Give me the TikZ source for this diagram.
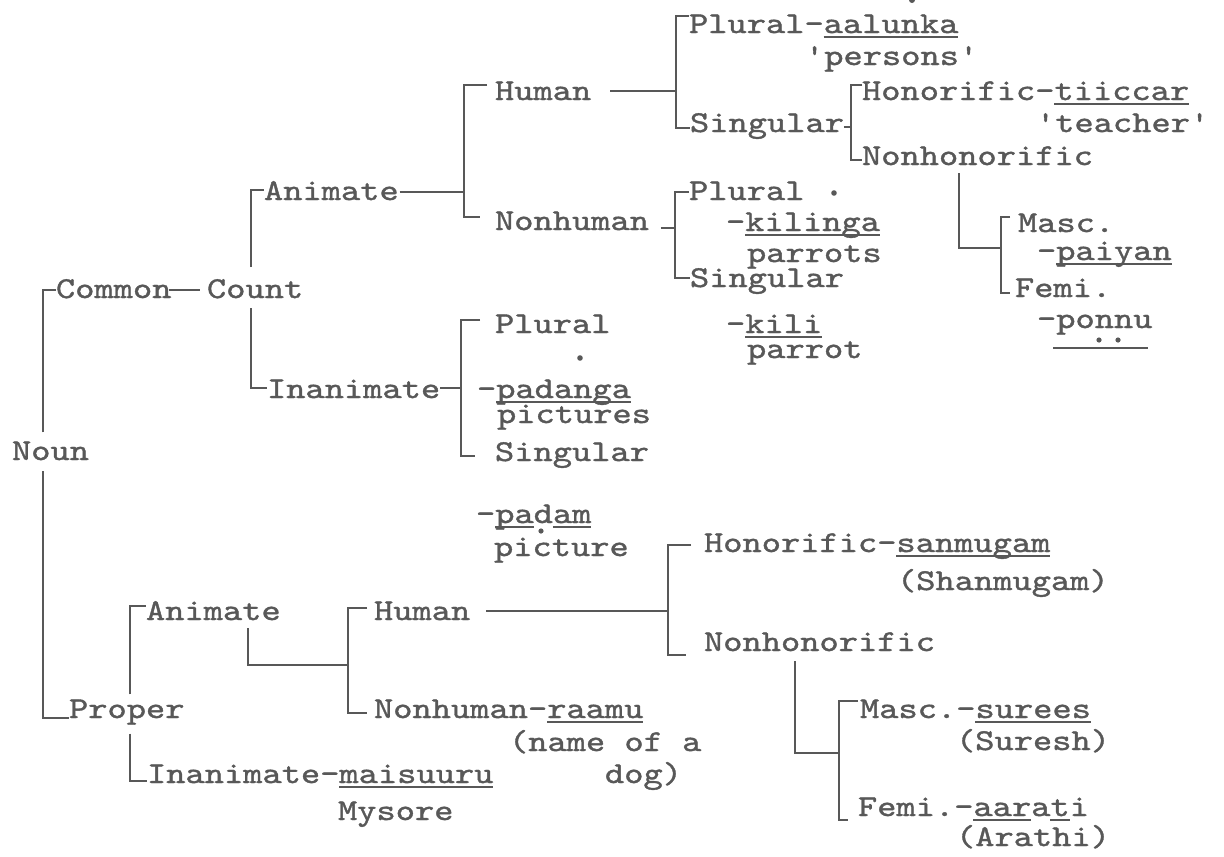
\documentclass[tikz,border=0pt]{standalone}
\usepackage{fontspec}
\setmonofont[FakeStretch=1.21,FakeBold=1.2]{lmmono10-regular.otf}
\definecolor{ink}{RGB}{88,88,88}
\newcommand\ulx[1]{\setbox0\hbox{#1}\rlap{\rule[-4.8pt]{\wd0}{1.6pt}}\box0}
\begin{document}
\begin{tikzpicture}[x=1pt,y=-1pt,
  lbl/.style={inner sep=0pt, outer sep=0pt, anchor=base west, text=ink,
              font=\ttfamily\fontsize{30.3pt}{32pt}\selectfont},
  ln/.style={draw=ink, line width=2.4pt}]
\fill[white] (0,0) rectangle (1224,857);
\useasboundingbox (0,0) rectangle (1224,857);

% ---------- nodes ----------
\node[lbl] (noun)    at (12,460)  {Noun};
\node[lbl] (common)  at (56,298)  {Common};
\node[lbl] (count)   at (207,298) {Count};
\node[lbl] (animC)   at (264,200) {Animate};
\node[lbl] (inanC)   at (267,398) {Inanimate};
\node[lbl] (humC)    at (495,100) {Human};
\node[lbl] (nonhC)   at (495,230) {Nonhuman};
\node[lbl] (plH)     at (689,33)  {Plural-\ulx{aalunka}};
\node[lbl] (persons) at (805,65)  {'persons'};
\node[lbl] (sgH)     at (690,132) {Singular};
\node[lbl] (honC)    at (862,100) {Honorific-\ulx{tiiccar}};
\node[lbl] (teacher) at (1036,132){'teacher'};
\node[lbl] (nonhonC) at (862,165) {Nonhonorific};
\node[lbl] (mascC)   at (1018,232){Masc.};
\node[lbl] (paiyan)  at (1037,260){-\ulx{paiyan}};
\node[lbl] (femiC)   at (1015,297){Femi.};
\node[lbl] (ponnu)   at (1037,328){-ponnu};
\node[lbl] (plN)     at (689,200) {Plural};
\node[lbl] (kilinga) at (726,231) {-\ulx{kilinga}};
\node[lbl] (parrots) at (747,262) {parrots};
\node[lbl] (sgN)     at (690,287) {Singular};
\node[lbl] (kili)    at (726,333) {-\ulx{kili}};
\node[lbl] (parrot)  at (747,358) {parrot};
\node[lbl] (plI)     at (495,333) {Plural};
\node[lbl] (padanga) at (477,398) {-\ulx{padanga}};
\node[lbl] (pictures)at (497,423) {pictures};
\node[lbl] (sgI)     at (495,461) {Singular};
\node[lbl] (padam)   at (476,523) {-\ulx{pa}d\ulx{am}};
\node[lbl] (picture) at (494,556) {picture};
\node[lbl] (proper)  at (69,718)  {Proper};
\node[lbl] (animP)   at (146,620) {Animate};
\node[lbl] (inanP)   at (147,783) {Inanimate-\ulx{maisuuru}};
\node[lbl] (mysore)  at (338,820) {Mysore};
\node[lbl] (humP)    at (374,620) {Human};
\node[lbl] (nonhP)   at (374,718) {Nonhuman-\ulx{raamu}};
\node[lbl] (namea)   at (509,751) {(name of a};
\node[lbl] (dog)     at (605,783) {dog)};
\node[lbl] (honP)    at (704,552) {Honorific-\ulx{sanmugam}};
\node[lbl] (shan)    at (897,590) {(Shanmugam)};
\node[lbl] (nonhonP) at (704,651) {Nonhonorific};
\node[lbl] (mascP)   at (860,718) {Masc.-\ulx{surees}};
\node[lbl] (suresh)  at (956,750) {(Suresh)};
\node[lbl] (femiP)   at (858,816) {Femi.-\ulx{aar}a\ulx{t}i};
\node[lbl] (arathi)  at (956,846) {(Arathi)};

% ---------- bracket corners ----------
\coordinate (nb1) at (43,290);   \coordinate (nb2) at (43,718);
\coordinate (cb1) at (251,190);  \coordinate (cb2) at (251,388);
\coordinate (acb) at (464,192);
\coordinate (ab1) at (464,85);   \coordinate (ab2) at (464,217);
\coordinate (hb)  at (676,91);
\coordinate (hb1) at (676,16);   \coordinate (hb2) at (676,128);
\coordinate (sb)  at (851,127);
\coordinate (sb1) at (851,85);   \coordinate (sb2) at (851,160);
\coordinate (nd)  at (959,248);  \coordinate (fb)  at (1001,248);
\coordinate (fb1) at (1001,217); \coordinate (fb2) at (1001,293);
\coordinate (nhb) at (675,228);
\coordinate (nhb1) at (675,192); \coordinate (nhb2) at (675,278);
\coordinate (ib)  at (461,388);
\coordinate (ib1) at (461,320);  \coordinate (ib2) at (461,456);
\coordinate (pb1) at (130,606);  \coordinate (pb2) at (130,781);
\coordinate (ad)  at (248,665);  \coordinate (apb) at (348,665);
\coordinate (apb1) at (348,608); \coordinate (apb2) at (348,713);
\coordinate (hpb) at (668,611);
\coordinate (hpb1) at (668,545); \coordinate (hpb2) at (668,655);
\coordinate (nhd) at (795,753);  \coordinate (nhpb) at (839,753);
\coordinate (nhpb1) at (839,701);\coordinate (nhpb2) at (839,820);

% ---------- connectors ----------
\draw[ln] ([yshift=9pt]noun.north -| nb1) -- (nb1) -- (nb1 -| common.west);
\draw[ln] ([yshift=-11pt]noun.south -| nb1) -- (nb2) -- (nb2 -| proper.west);
\draw[ln] ([xshift=-2pt]common.east |- nb1) -- ([xshift=-7pt]count.west |- nb1);
\draw[ln] ([yshift=12pt]count.north -| cb1) -- (cb1) -- (cb1 -| animC.west);
\draw[ln] ([yshift=-10pt]count.south -| cb1) -- (cb2) -- (cb2 -| inanC.west);
\draw[ln] ([xshift=1pt]animC.east |- acb) -- (acb);
\draw[ln] ([xshift=-8pt]humC.west |- ab1) -- (ab1) -- (ab2) -- ([xshift=-15pt]nonhC.west |- ab2);
\draw[ln] ([xshift=19pt]humC.east |- hb) -- (hb);
\draw[ln] (hb1 -| plH.west) -- (hb1) -- (hb2) -- (hb2 -| sgH.west);
\draw[ln] (sgH.east |- sb) -- (sb);
\draw[ln] (sb1 -| honC.west) -- (sb1) -- (sb2) -- (sb2 -| nonhonC.west);
\draw[ln] ([yshift=-8pt]nonhonC.south -| nd) -- (nd) -- (fb);
\draw[ln] ([xshift=-8pt]mascC.west |- fb1) -- (fb1) -- (fb2) -- ([xshift=-5pt]femiC.west |- fb2);
\draw[ln] ([xshift=12pt]nonhC.east |- nhb) -- (nhb);
\draw[ln] (nhb1 -| plN.west) -- (nhb1) -- (nhb2) -- (nhb2 -| sgN.west);
\draw[ln] (inanC.east |- ib) -- (ib);
\draw[ln] ([xshift=-15pt]plI.west |- ib1) -- (ib1) -- (ib2) -- ([xshift=-20pt]sgI.west |- ib2);
\draw[ln] ([yshift=5pt]proper.north -| pb1) -- (pb1) -- (pb1 -| animP.west);
\draw[ln] ([yshift=-9pt]proper.south -| pb1) -- (pb2) -- (pb2 -| inanP.west);
\draw[ln] ([yshift=-8pt]animP.south -| ad) -- (ad) -- (apb);
\draw[ln] ([xshift=-7pt]humP.west |- apb1) -- (apb1) -- (apb2) -- ([xshift=-7pt]nonhP.west |- apb2);
\draw[ln] ([xshift=16pt]humP.east |- hpb) -- (hpb);
\draw[ln] ([xshift=-13pt]honP.west |- hpb1) -- (hpb1) -- (hpb2) -- ([xshift=-18pt]nonhonP.west |- hpb2);
\draw[ln] ([yshift=-10pt]nonhonP.south -| nhd) -- (nhd) -- (nhpb);
\draw[ln] ([xshift=-2pt]mascP.west |- nhpb1) -- (nhpb1) -- (nhpb2) -- ([xshift=-10pt]femiP.west |- nhpb2);

% ---------- diacritic dots and marks ----------
\fill[ink] (834,193) circle[radius=2.8pt];
\fill[ink] (580,358) circle[radius=2.8pt];
\fill[ink] (541,531) circle[radius=2.6pt];
\fill[ink] (1099,340) circle[radius=2.6pt];
\fill[ink] (1118,340) circle[radius=2.6pt];
\fill[ink] (912,0) circle[radius=3pt];
\draw[ink, line width=1.8pt] (1053,348) -- (1148,348);
\end{tikzpicture}
\end{document}
